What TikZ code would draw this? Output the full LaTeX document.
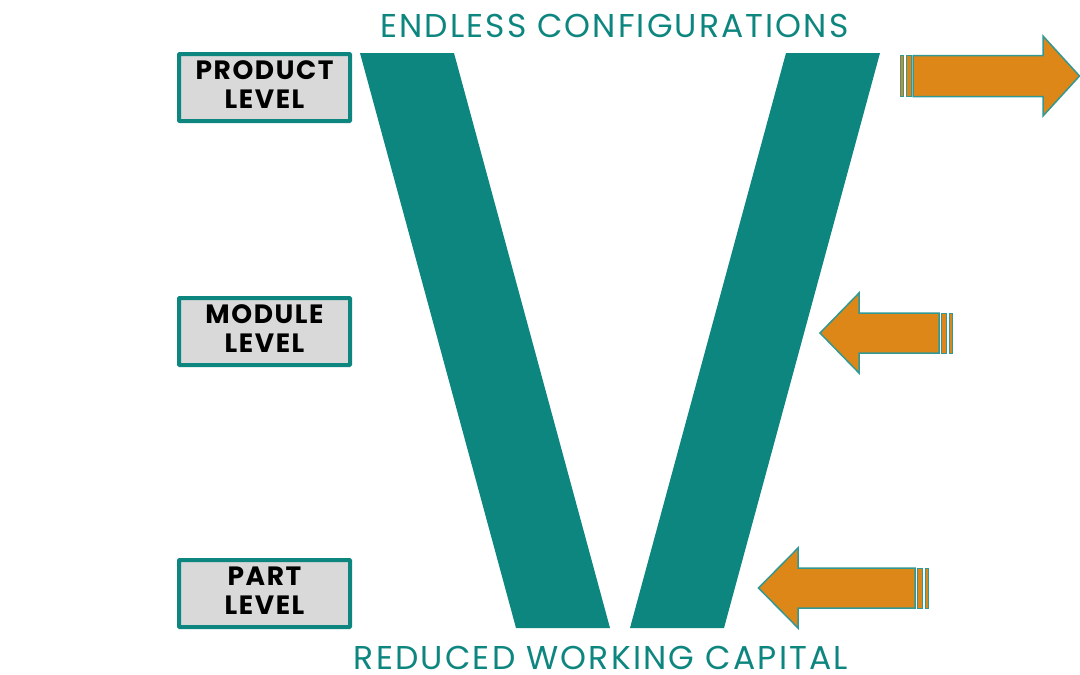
\documentclass[tikz,border=0pt]{standalone}
\usepackage{fontspec}
\setmainfont{Poppins}
\newfontfamily\boxfont[LetterSpace=6,BoldFont={Poppins Bold}]{Poppins}
\newfontfamily\capfont[LetterSpace=6.3]{Poppins}
\newfontfamily\capfontb[LetterSpace=6.7]{Poppins}
\definecolor{vteal}{HTML}{0E8680}
\definecolor{aorange}{HTML}{DC8717}
\definecolor{boxgray}{HTML}{D9D9D9}
\tikzset{
 vbar/.style={fill=vteal,draw=none},
 levelbox/.style={draw=vteal,line width=4pt,fill=boxgray,minimum width=171pt,minimum height=67pt,inner sep=0pt,rounded corners=0.8pt},
 leveltext/.style={inner sep=0pt,align=center,text=black,font=\boxfont\fontsize{26.5}{28.5}\selectfont\bfseries},
 captext/.style={text=vteal,inner sep=0pt,font=\capfont\fontsize{33}{36}\selectfont},
 captextb/.style={text=vteal,inner sep=0pt,font=\capfontb\fontsize{33}{36}\selectfont},
 arr/.style={fill=aorange,draw=vteal!85!white,line width=1.5pt,line join=miter},
}
\begin{document}
\begin{tikzpicture}[x=1pt,y=-1pt]
\useasboundingbox (0,0) rectangle (1080,675);
\fill[vbar] (360,53) -- (454,53) -- (610,628) -- (516,628) -- cycle;
\fill[vbar] (786,53) -- (880,53) -- (724,628) -- (630,628) -- cycle;
\node[levelbox] (product) at (264.5,87.5) {};
\node[levelbox] (module) at (264.5,331.5) {};
\node[levelbox] (part) at (264.5,593.5) {};
\node[leveltext] (producttext) at ([yshift=3pt]product.center) {PRODUCT\\LEVEL};
\node[leveltext] (moduletext) at ([yshift=3pt]module.center) {MODULE\\LEVEL};
\node[leveltext] (parttext) at ([yshift=3pt]part.center) {PART\\LEVEL};
\node[captext] (top) at (614.5,25.5) {ENDLESS CONFIGURATIONS};
\node[captextb] (bottom) at (601,657.5) {REDUCED WORKING CAPITAL};
% arrow right
\draw[arr] (913,55.5) -- (1043,55.5) -- (1043,36) -- (1079.5,76) -- (1043,116) -- (1043,96.5) -- (913,96.5) -- cycle;
\draw[arr,line width=1pt] (906,55.5) rectangle (911,96.5);
\draw[arr,line width=1pt] (900.5,55.5) rectangle (903.5,96.5);
% arrow middle
\draw[arr] (939,313) -- (859,313) -- (859,293) -- (820,333) -- (859,373) -- (859,353) -- (939,353) -- cycle;
\draw[arr,line width=1pt] (941.5,313) rectangle (946.5,353);
\draw[arr,line width=1pt] (949,313) rectangle (952,353);
% arrow bottom
\draw[arr] (915,568) -- (798,568) -- (798,548) -- (758.5,588) -- (798,628) -- (798,608) -- (915,608) -- cycle;
\draw[arr,line width=1pt] (917.5,568) rectangle (922,608);
\draw[arr,line width=1pt] (925,568) rectangle (928,608);
\end{tikzpicture}
\end{document}
